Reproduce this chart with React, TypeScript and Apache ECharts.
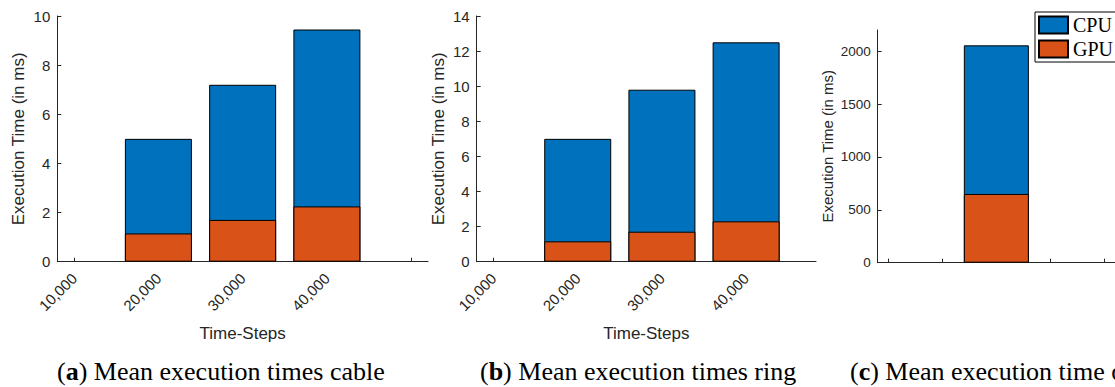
import { useEffect, useRef } from 'react';
import * as echarts from 'echarts';

// Time-step categories shown under panels (a) and (b); bars sit at positions 1..4
const timeSteps = ['10,000', '20,000', '30,000', '40,000'];
const stepPositions = [1, 2, 3, 4];

// (a) cable: mean execution time per time-step (ms)
const cableCpu: (number | null)[] = [null, 5.0, 7.2, 9.45];
const cableGpu: (number | null)[] = [null, 1.15, 1.7, 2.25];

// (b) ring: mean execution time per time-step (ms)
const ringCpu: (number | null)[] = [null, 7.0, 9.8, 12.5];
const ringGpu: (number | null)[] = [null, 1.16, 1.71, 2.3];

// (c) single measurement (ms)
const thirdTicks = [1, 2, 3, 4, 5];
const thirdPositions = [3];
const thirdCpu = [2055];
const thirdGpu = [650];

// Tick values
const ticksA = [0, 2, 4, 6, 8, 10];
const ticksB = [0, 2, 4, 6, 8, 10, 12, 14];
const ticksC = [0, 500, 1000, 1500, 2000];

const captions = [
  { tag: 'a', text: 'Mean execution times cable' },
  { tag: 'b', text: 'Mean execution times ring' },
  { tag: 'c', text: 'Mean execution time of' },
];

const AXIS = '#262626';
const SANS = '"Liberation Sans", Arial, Helvetica, sans-serif';
const SERIF = '"Liberation Serif", "DejaVu Serif", serif';
const CPU_COLOR = '#0072BD';
const GPU_COLOR = '#D95319';

const pairs = (pos: number[], vals: (number | null)[]) =>
  pos.map((p, i) => [p, vals[i]]).filter((d) => d[1] !== null);

function xAxisFor(
  gridIndex: number,
  min: number,
  max: number,
  ticks: number[],
  labels: string[] | null,
) {
  return {
    gridIndex,
    type: 'value',
    min,
    max,
    axisLine: { show: true, onZero: false, lineStyle: { color: AXIS, width: 1 } },
    axisTick: { show: true, inside: true, length: 4, customValues: ticks, lineStyle: { color: AXIS } },
    axisLabel: labels
      ? {
          show: true,
          customValues: labels.map((_, i) => i + 1),
          rotate: 45,
          margin: 14,
          fontSize: 15,
          fontFamily: SANS,
          color: AXIS,
          formatter: (v: number) => labels[Math.round(v) - 1] ?? '',
        }
      : { show: false },
    splitLine: { show: false },
    name: labels ? 'Time-Steps' : '',
    nameLocation: 'middle',
    nameGap: 63,
    nameTextStyle: { fontSize: 17, fontFamily: SANS, color: AXIS },
  };
}

function yAxisFor(
  gridIndex: number,
  ticks: number[],
  max: number,
  fontSize: number,
  nameSize: number,
  nameGap: number,
) {
  return {
    gridIndex,
    type: 'value',
    min: 0,
    max,
    axisLine: { show: true, lineStyle: { color: AXIS, width: 1 } },
    axisTick: { show: true, inside: true, length: 4, customValues: ticks, lineStyle: { color: AXIS } },
    axisLabel: {
      customValues: ticks,
      margin: 7,
      fontSize,
      fontFamily: SANS,
      color: AXIS,
      formatter: (v: number) => String(v),
    },
    splitLine: { show: false },
    name: 'Execution Time (in ms)',
    nameLocation: 'middle',
    nameRotate: 90,
    nameGap,
    nameTextStyle: { fontSize: nameSize, fontFamily: SANS, color: AXIS },
  };
}

function barPair(idx: number, cpu: number[][], gpu: number[][], width: number) {
  const base = {
    type: 'bar',
    xAxisIndex: idx,
    yAxisIndex: idx,
    barWidth: width,
    barGap: '-100%',
  };
  return [
    {
      ...base,
      name: 'CPU',
      data: cpu,
      itemStyle: { color: CPU_COLOR, borderColor: '#000', borderWidth: 1 },
    },
    {
      ...base,
      name: 'GPU',
      data: gpu,
      itemStyle: { color: GPU_COLOR, borderColor: '#000', borderWidth: 1 },
    },
  ];
}

export default function App() {
  const ref = useRef<HTMLDivElement>(null);

  useEffect(() => {
    if (!ref.current) return;
    const chart = echarts.init(ref.current, null, { renderer: 'svg' });

    const captionLefts = [57, 480, 850];

    chart.setOption({
      animation: false,
      backgroundColor: '#fff',
      grid: [
        { left: 57.3, top: 16, width: 370.7, height: 245.7 },
        { left: 476.7, top: 16, width: 339.3, height: 245.7 },
        { left: 877.7, top: 30, width: 238.7, height: 232.7 },
      ],
      xAxis: [
        xAxisFor(0, 0.8, 5.2, [1, 2, 3, 4, 5], timeSteps),
        xAxisFor(1, 0.8, 4.83, [1, 2, 3, 4], timeSteps),
        xAxisFor(2, 0.8, 5.2, thirdTicks, null),
      ],
      yAxis: [
        yAxisFor(0, ticksA, 10, 15, 17, 30),
        yAxisFor(1, ticksB, 14, 15, 17, 30),
        yAxisFor(2, ticksC, 2200, 13.5, 15, 43),
      ],
      legend: {
        orient: 'vertical',
        left: 1035,
        top: 12,
        data: ['CPU', 'GPU'],
        icon: 'rect',
        itemWidth: 29,
        itemHeight: 17,
        itemGap: 4,
        padding: [3, 8, 3, 3],
        borderColor: '#000',
        borderWidth: 1,
        backgroundColor: '#fff',
        textStyle: { fontFamily: SERIF, fontSize: 20, color: '#000', lineHeight: 20 },
      },
      title: captions.map((c, i) => ({
        text: `({b|${c.tag}}) ${c.text}`,
        left: captionLefts[i],
        top: 358,
        padding: 0,
        textStyle: {
          fontFamily: SERIF,
          fontSize: 26,
          fontWeight: 'normal',
          color: '#000',
          rich: {
            b: { fontFamily: SERIF, fontSize: 26, fontWeight: 'bold', color: '#000' },
          },
        },
      })),
      series: [
        ...barPair(0, pairs(stepPositions, cableCpu) as number[][], pairs(stepPositions, cableGpu) as number[][], 67),
        ...barPair(1, pairs(stepPositions, ringCpu) as number[][], pairs(stepPositions, ringGpu) as number[][], 67),
        ...barPair(
          2,
          pairs(thirdPositions, thirdCpu) as number[][],
          pairs(thirdPositions, thirdGpu) as number[][],
          65,
        ),
      ],
    });

    return () => chart.dispose();
  }, []);

  return (
    <div
      ref={ref}
      style={{ position: 'absolute', left: 0, top: 0, width: 1115, height: 387 }}
    />
  );
}
